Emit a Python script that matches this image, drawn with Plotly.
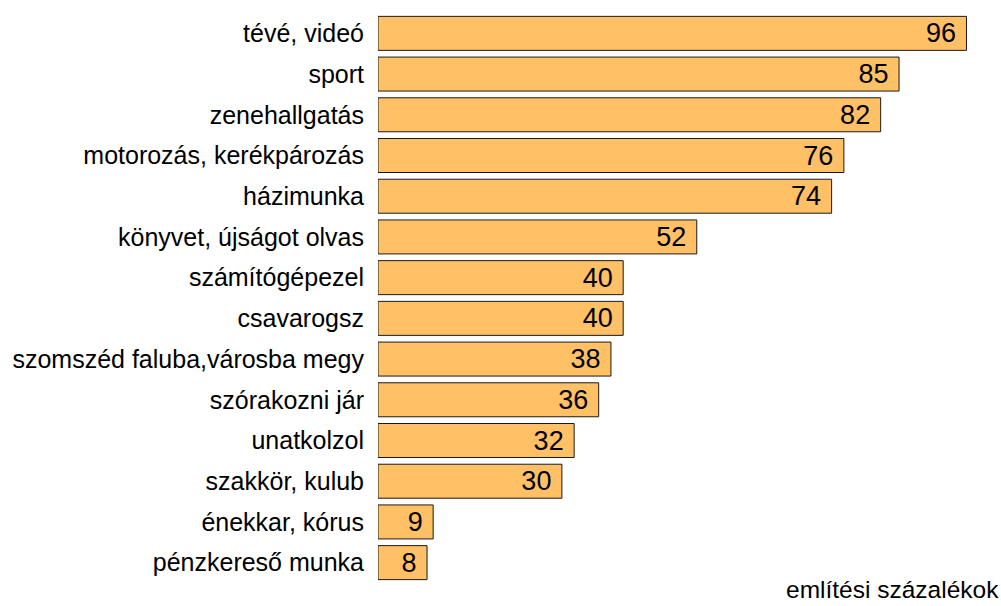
import plotly.graph_objects as go

categories = ["tévé, videó", "sport", "zenehallgatás", "motorozás, kerékpározás",
              "házimunka", "könyvet, újságot olvas", "számítógépezel", "csavarogsz",
              "szomszéd faluba,városba megy", "szórakozni jár", "unatkolzol",
              "szakkör, kulub", "énekkar, kórus", "pénzkereső munka"]
values = [96, 85, 82, 76, 74, 52, 40, 40, 38, 36, 32, 30, 9, 8]
axis_note = "említési százalékok"

FONT = "Liberation Sans, Arial, sans-serif"

fig = go.Figure(go.Bar(
    x=values, y=categories, orientation="h",
    marker=dict(color="#FFC066", line=dict(color="#1a1a1a", width=1)),
    text=[str(v) + "\u00a0" for v in values], textposition="inside",
    insidetextanchor="end", textangle=0,
    textfont=dict(family=FONT, size=27, color="black"),
    constraintext="none", hoverinfo="skip",
))
fig.update_layout(
    width=1001, height=606, plot_bgcolor="white", paper_bgcolor="white",
    margin=dict(l=378, r=10, t=13, b=23),
    bargap=0.165, showlegend=False,
    font=dict(family=FONT, size=25, color="black"),
)
fig.update_xaxes(range=[0, 100], visible=False)
fig.update_yaxes(autorange="reversed", showline=False, showgrid=False, ticks="",
                 ticklabelstandoff=13, tickfont=dict(size=25))
fig.add_annotation(text=axis_note, xref="paper", yref="paper", x=1.0, y=0,
                   xanchor="right", yanchor="top", yshift=9, xshift=10,
                   showarrow=False, font=dict(size=24.5))
fig.write_html("out.html", config={"displayModeBar": False},
               post_script="document.body.style.margin='0';")
